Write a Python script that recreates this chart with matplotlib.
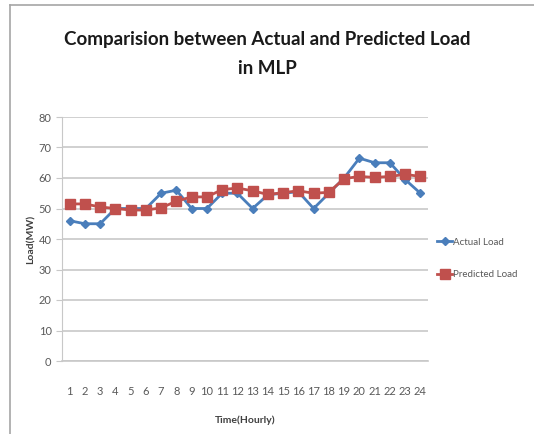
import matplotlib
matplotlib.use('Agg')
import matplotlib.pyplot as plt
from matplotlib.lines import Line2D

# ── DATA ─────────────────────────────────────────────────────────────────
HOURS = list(range(1, 25))
ACTUAL = [46, 45, 45, 50, 50, 50, 55, 56, 50, 50, 55, 55,
          50, 54.5, 55, 55.5, 50, 55, 60, 66.5, 65, 65, 59.5, 55]
PREDICTED = [51.5, 51.5, 50.5, 50, 49.5, 49.5, 50.2, 52.4, 53.8, 53.8, 56.2, 56.7,
             55.8, 54.6, 55.2, 55.8, 55, 55.3, 59.8, 60.5, 60.2, 60.5, 61.2, 60.5]
YTICKS = [0, 10, 20, 30, 40, 50, 60, 70, 80]

BLUE = '#4a7ebb'
RED = '#c0504d'
GRAY = '#595959'
GRID = '#c8c8c8'

plt.rcParams['font.family'] = ['Lato', 'DejaVu Sans']

fig = plt.figure(figsize=(5.34, 4.34), dpi=100)
fig.patch.set_facecolor('white')

# outer frame (left and top only, picture is cropped)
fig.add_artist(Line2D([10/534, 10/534], [0, 1 - 5/434], color='#a6a6a6', lw=1.2))
fig.add_artist(Line2D([10/534, 1], [1 - 5/434, 1 - 5/434], color='#a6a6a6', lw=1.2))

ax = fig.add_axes([62/534, 1 - 361/434, 366/534, 244/434])
ax.set_xlim(0.5, 24.5)
ax.set_ylim(0, 80)

ax.plot(HOURS, ACTUAL, color=BLUE, lw=2.0, marker='D', ms=4.5,
        label='Actual Load', zorder=3)
ax.plot(HOURS, PREDICTED, color=RED, lw=2.0, marker='s', ms=6.5,
        label='Predicted Load', zorder=4)

ax.set_yticks(YTICKS)
ax.set_xticks(HOURS)
ax.yaxis.grid(True, color=GRID, lw=1.2)
ax.set_axisbelow(True)
for s in ['top', 'right']:
    ax.spines[s].set_visible(False)
ax.spines['left'].set_color(GRID)
ax.spines['bottom'].set_color(GRID)
ax.spines['bottom'].set_linewidth(1.2)
ax.tick_params(axis='y', colors=GRID, length=4, labelcolor=GRAY, labelsize=8)
ax.tick_params(axis='x', length=0, labelcolor=GRAY, labelsize=8, pad=18)

ax.set_xlabel('Time(Hourly)', fontsize=7.5, fontweight='bold', color='#404040', labelpad=13)
ax.set_ylabel('Load(MW)', fontsize=7.5, fontweight='bold', color='#404040', labelpad=2)

fig.text(0.5, 1 - 54/434, 'Comparision between Actual and Predicted Load\nin MLP',
         ha='center', va='center', fontsize=13.5, fontweight='bold', color='#1a1a1a',
         linespacing=1.85)

ax.legend(loc='center left', bbox_to_anchor=(1.0, 0.42), frameon=False,
          fontsize=7, labelcolor=GRAY, handlelength=1.6, handletextpad=0.1,
          labelspacing=2.4)

plt.savefig('out.png', dpi=100, facecolor='white')
